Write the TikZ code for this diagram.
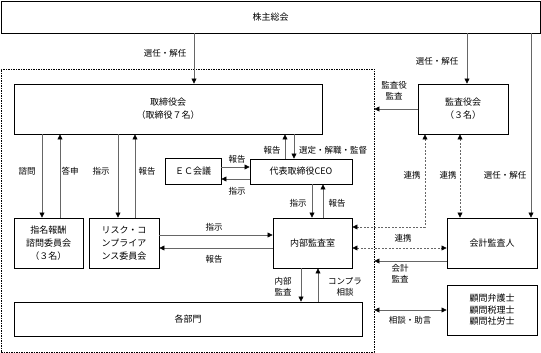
\documentclass[tikz,border=0pt]{standalone}
\usepackage{fontspec}
\setmainfont{Noto Sans CJK JP}
\usetikzlibrary{arrows.meta}

\tikzset{
  box/.style={draw=black,line width=0.9pt,fill=white,inner sep=0pt,align=center,
    font=\fontsize{9}{13}\selectfont},
  frame/.style={draw=black,line width=0.8pt,dash pattern=on 1.5pt off 1pt,inner sep=0pt},
  tip/.tip={Triangle[length=5pt,width=5pt,color=black]},
  arr/.style={draw=black!60,line width=0.6pt,-tip},
  twoway/.style={arr,tip-tip},
  link/.style={twoway,dash pattern=on 2pt off 1.5pt},
  lbl/.style={inner sep=0pt,align=center,font=\fontsize{8.5}{11}\selectfont},
}

\begin{document}
\begin{tikzpicture}[x=1pt,y=-1pt]
\useasboundingbox (0,0) rectangle (541,353);
% outer frame of the company
\node[frame,minimum width=373,minimum height=283] (inner) at (187.5,210.5) {};

% boxes
\node[box,minimum width=539,minimum height=32] (soukai) at (270.5,17) {株主総会};
\node[box,minimum width=308,minimum height=50] (torishimari) at (168,109) {取締役会\\（取締役７名）};
\node[box,minimum width=90,minimum height=50] (kansa) at (463,109) {監査役会\\（３名）};
\node[box,minimum width=56,minimum height=26] (ec) at (193,171) {ＥＣ会議};
\node[box,minimum width=102,minimum height=25] (ceo) at (301,171.5) {代表取締役CEO};
\node[box,minimum width=69,minimum height=50] (shimei) at (48.5,243) {指名報酬\\諮問委員会\\（３名）};
\node[box,minimum width=70,minimum height=50] (risk) at (124,243) {リスク・コ\\ンプライア\\ンス委員会};
\node[box,minimum width=79,minimum height=50] (naibu) at (312.5,243) {内部監査室};
\node[box,minimum width=90,minimum height=50] (kaikei) at (492,243) {会計監査人};
\node[box,minimum width=348,minimum height=34] (kakubu) at (188,319) {各部門};
\node[box,minimum width=90,minimum height=50,font=\fontsize{9}{11.5}\selectfont] (komon) at (492,310) {顧問弁護士\\顧問税理士\\顧問社労士};

% from the general meeting
\draw[arr] ([xshift=26pt]torishimari.north |- soukai.south) -- ([xshift=26pt]torishimari.north);
\draw[arr] ([xshift=4pt]kansa.north |- soukai.south) -- ([xshift=4pt]kansa.north);
\draw[arr] ([xshift=39pt]kaikei.north |- soukai.south) -- ([xshift=39pt]kaikei.north);
\draw[arr] (kansa.west) -- (kansa.west -| inner.east);

% board and committees
\draw[arr] ([xshift=-6.5pt]shimei.north |- torishimari.south) -- ([xshift=-6.5pt]shimei.north);
\draw[arr] ([xshift=11.5pt]shimei.north) -- ([xshift=11.5pt]shimei.north |- torishimari.south);
\draw[arr] ([xshift=-6pt]risk.north |- torishimari.south) -- ([xshift=-6pt]risk.north);
\draw[arr] ([xshift=11pt]risk.north) -- ([xshift=11pt]risk.north |- torishimari.south);

% CEO
\draw[arr] ([yshift=4pt]ec.east) -- ([yshift=4pt]ec.east -| ceo.west);
\draw[arr] ([yshift=-8pt]ec.east -| ceo.west) -- ([yshift=-8pt]ec.east);
\draw[arr] ([xshift=-16pt]ceo.north) -- ([xshift=-16pt]ceo.north |- torishimari.south);
\draw[arr] ([xshift=-7pt]ceo.north |- torishimari.south) -- ([xshift=-7pt]ceo.north);
\draw[arr] ([xshift=-0.5pt]naibu.north |- ceo.south) -- ([xshift=-0.5pt]naibu.north);
\draw[arr] ([xshift=10.5pt]naibu.north) -- ([xshift=10.5pt]naibu.north |- ceo.south);

% internal audit
\draw[arr] ([yshift=8pt]risk.east) -- ([yshift=8pt]risk.east -| naibu.west);
\draw[arr] ([yshift=-5pt]risk.east -| naibu.west) -- ([yshift=-5pt]risk.east);
\draw[arr] ([xshift=-11.5pt]naibu.south) -- ([xshift=-11.5pt]naibu.south |- kakubu.north);
\draw[arr] ([xshift=5.5pt]naibu.south |- kakubu.north) -- ([xshift=5.5pt]naibu.south);

% cooperation
\draw[link] ([xshift=-38pt]kansa.south) |- ([yshift=16pt]naibu.east);
\draw[link] ([xshift=-3pt]kansa.south) -- ([xshift=-3pt]kansa.south |- kaikei.north);
\draw[link] ([yshift=-5pt]naibu.east) -- ([yshift=-5pt]naibu.east -| kaikei.west);
\draw[arr] ([yshift=-18pt]kaikei.west) -- ([yshift=-18pt]kaikei.west -| inner.east);
\draw[twoway] (komon.west -| inner.east) -- (komon.west);

% labels
\node[lbl] (sel1) at (165,53) {選任・解任};
\node[lbl] (sel2) at (437,61) {選任・解任};
\node[lbl] (sel3) at (505,175) {選任・解任};
\node[lbl] (kk) at (394,91) {監査役\\監査};
\node[lbl] (shimon) at (27,171) {諮問};
\node[lbl] (toushin) at (70,171) {答申};
\node[lbl] (shiji1) at (101,171) {指示};
\node[lbl] (houkoku1) at (147,171) {報告};
\node[lbl] (houkoku2) at (237,159) {報告};
\node[lbl] (shiji2) at (237,191) {指示};
\node[lbl] (houkoku3) at (272,150) {報告};
\node[lbl] (sentei) at (333,150) {選定・解職・監督};
\node[lbl] (shiji3) at (298,203) {指示};
\node[lbl] (houkoku4) at (337,203) {報告};
\node[lbl] (renkei1) at (412,175) {連携};
\node[lbl] (renkei2) at (448,175) {連携};
\node[lbl] (renkei3) at (403,238) {連携};
\node[lbl] (shiji4) at (214,227) {指示};
\node[lbl] (houkoku5) at (214,259) {報告};
\node[lbl] (nk) at (283,287) {内部\\監査};
\node[lbl] (compla) at (345,287) {コンプラ\\相談};
\node[lbl] (kaikeikansa) at (400,274) {会計\\監査};
\node[lbl] (soudan) at (410,320) {相談・助言};
\end{tikzpicture}
\end{document}
